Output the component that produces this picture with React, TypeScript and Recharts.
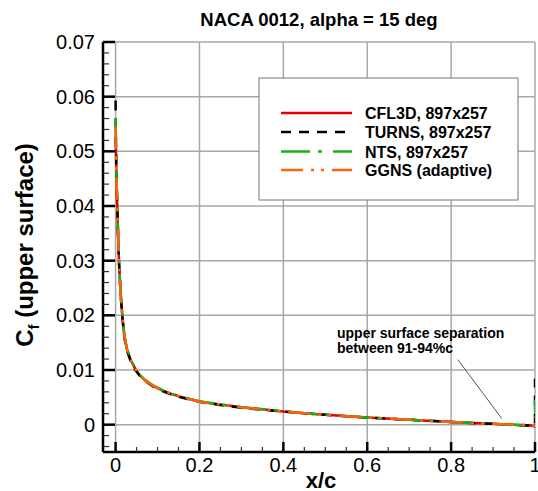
import React from 'react';
import { LineChart, Line, XAxis, YAxis, CartesianGrid, ReferenceLine } from 'recharts';

const FONT = "'Liberation Sans', Arial, Helvetica, sans-serif";

// axis ticks
const xMajorTicks = [0, 0.2, 0.4, 0.6, 0.8, 1];
const xTickLabels = ['0', '0.2', '0.4', '0.6', '0.8', '1'];
const xMinorTicks = [0, 0.05, 0.1, 0.15, 0.2, 0.25, 0.3, 0.35, 0.4, 0.45, 0.5, 0.55, 0.6, 0.65, 0.7, 0.75, 0.8, 0.85, 0.9, 0.95, 1];
const yMajorTicks = [0, 0.01, 0.02, 0.03, 0.04, 0.05, 0.06, 0.07];
const yTickLabels = ['0', '0.01', '0.02', '0.03', '0.04', '0.05', '0.06', '0.07'];
const yMinorTicks = [
  -0.004, -0.002, 0, 0.002, 0.004, 0.006, 0.008, 0.01, 0.012, 0.014, 0.016, 0.018, 0.02,
  0.022, 0.024, 0.026, 0.028, 0.03, 0.032, 0.034, 0.036, 0.038, 0.04, 0.042, 0.044, 0.046,
  0.048, 0.05, 0.052, 0.054, 0.056, 0.058, 0.06, 0.062, 0.064, 0.066, 0.068, 0.07,
];

// x/c stations (last station repeated for the trailing-edge spike)
const xStations = [
  0, 0.0005, 0.001, 0.002, 0.004, 0.006, 0.008, 0.012, 0.016, 0.021, 0.027, 0.037, 0.047, 0.057,
  0.07, 0.089, 0.11, 0.13, 0.16, 0.2, 0.25, 0.3, 0.35, 0.4, 0.45, 0.5, 0.6, 0.7, 0.8, 0.85, 0.9,
  0.93, 0.96, 0.99, 1.0, 1.0,
];

const cfCFL3D = [
  0.0525, 0.0515, 0.05, 0.0455, 0.04, 0.0345, 0.03, 0.024, 0.02, 0.0162, 0.0138, 0.0117, 0.0102, 0.0091,
  0.0081, 0.0071, 0.0063, 0.0057, 0.005, 0.0042, 0.0037, 0.0032, 0.0028, 0.0024, 0.0021, 0.0018, 0.0013, 0.0009, 0.0005, 0.0003, 0.00015,
  0.00005, -0.00005, -0.00015, -0.0003, -0.0006,
];
const cfTURNS = [
  0.0593, 0.054, 0.0505, 0.0455, 0.04, 0.0343, 0.0298, 0.0238, 0.0197, 0.0159, 0.0135, 0.0114, 0.01, 0.009,
  0.008, 0.007, 0.0062, 0.0056, 0.0049, 0.0042, 0.0036, 0.0031, 0.0027, 0.0024, 0.0021, 0.0018, 0.0013, 0.0009, 0.0005, 0.0003, 0.00015,
  0.0, -0.0001, -0.00015, -0.0002, 0.0084,
];
const cfNTS = [
  0.056, 0.0535, 0.0505, 0.0458, 0.0402, 0.0347, 0.0301, 0.0241, 0.0201, 0.0163, 0.0139, 0.0118, 0.0103, 0.0092,
  0.0082, 0.0072, 0.0064, 0.0057, 0.005, 0.0043, 0.0037, 0.0032, 0.0028, 0.0025, 0.0021, 0.0018, 0.0013, 0.0009, 0.0005, 0.0003, 0.00015,
  0.00005, -0.00005, -0.0001, -0.0002, 0.0045,
];
const cfGGNS = [
  0.0545, 0.053, 0.0502, 0.0456, 0.0401, 0.0346, 0.03, 0.024, 0.02, 0.0162, 0.0138, 0.0117, 0.0102, 0.0091,
  0.0081, 0.0071, 0.0063, 0.0057, 0.005, 0.0042, 0.0037, 0.0032, 0.0028, 0.0024, 0.0021, 0.0018, 0.0013, 0.0009, 0.0005, 0.0003, 0.00015,
  0.00005, -0.00005, -0.0001, -0.0002, 0.0015,
];

// annotation leader (data coordinates)
const leaderX = [0.816, 0.921];
const leaderY = [0.0119, 0.0011];

const toRows = (ys: number[]) => xStations.map((x, i) => ({ x, y: ys[i] }));

const series = [
  { name: 'CFL3D, 897x257', data: toRows(cfCFL3D), color: '#e60000', dash: undefined as string | undefined },
  { name: 'TURNS, 897x257', data: toRows(cfTURNS), color: '#000000', dash: '10 8' },
  { name: 'NTS, 897x257', data: toRows(cfNTS), color: '#14b414', dash: '29 8 4 11' },
  { name: 'GGNS (adaptive)', data: toRows(cfGGNS), color: '#ff6010', dash: '22 8 3 7 3 8' },
];

const near = (a: number, b: number) => Math.abs(a - b) < 1e-9;

const YTick = (props: any) => {
  const { x, y, payload } = props;
  const v = payload.value;
  const idx = yMajorTicks.findIndex((m) => near(m, v));
  const major = idx >= 0;
  return (
    <g>
      <line x1={x} x2={x + (major ? 12 : 6)} y1={y} y2={y} stroke={major ? '#000' : '#333'} strokeWidth={major ? 2.5 : 1.2} />
      {major && (
        <text x={x - 8} y={y + 7} textAnchor="end" fontSize={20} fontFamily={FONT} fill="#000">
          {yTickLabels[idx]}
        </text>
      )}
    </g>
  );
};

const XTick = (props: any) => {
  const { x, y, payload } = props;
  const v = payload.value;
  const idx = xMajorTicks.findIndex((m) => near(m, v));
  const major = idx >= 0;
  return (
    <g>
      <line x1={x} x2={x} y1={y} y2={y - (major ? 10 : 5)} stroke={major ? '#000' : '#333'} strokeWidth={major ? 2.5 : 1.2} />
      {major && (
        <text x={x} y={y + 20} textAnchor="middle" fontSize={20} fontFamily={FONT} fill="#000">
          {xTickLabels[idx]}
        </text>
      )}
    </g>
  );
};

const legendRows = [113, 132, 151.5, 170];

export default function App() {
  return (
    <div style={{ position: 'absolute', left: 0, top: 0, width: 538, height: 491, background: '#fff' }}>
      <LineChart width={538} height={491} margin={{ top: 42, right: 3, left: 0, bottom: 0 }}>
        <CartesianGrid
          stroke="#a8a8a8"
          strokeWidth={1.5}
          horizontalValues={yMajorTicks}
          verticalValues={xMajorTicks}
        />
        <XAxis
          type="number"
          dataKey="x"
          domain={[-0.03, 1]}
          allowDataOverflow
          ticks={xMinorTicks}
          interval={0}
          height={39}
          tickSize={0}
          tickMargin={0}
          tickLine={false}
          axisLine={{ stroke: '#000', strokeWidth: 2.5 }}
          tick={(p: any) => <XTick {...p} />}
        />
        <YAxis
          type="number"
          dataKey="y"
          domain={[-0.005, 0.07]}
          allowDataOverflow
          ticks={yMinorTicks}
          interval={0}
          width={103}
          tickSize={0}
          tickMargin={0}
          tickLine={false}
          axisLine={{ stroke: '#000', strokeWidth: 2.5 }}
          tick={(p: any) => <YTick {...p} />}
        />
        <ReferenceLine
          segment={[
            { x: leaderX[0], y: leaderY[0] },
            { x: leaderX[1], y: leaderY[1] },
          ]}
          stroke="#555"
          strokeWidth={1}
          ifOverflow="visible"
        />
        {series.map((s) => (
          <Line
            key={s.name}
            data={s.data}
            dataKey="y"
            name={s.name}
            type="linear"
            stroke={s.color}
            strokeWidth={2.5}
            strokeDasharray={s.dash}
            dot={false}
            activeDot={false}
            isAnimationActive={false}
          />
        ))}
      </LineChart>
      <svg width={538} height={491} style={{ position: 'absolute', left: 0, top: 0, pointerEvents: 'none' }}>
        <text x={319} y={26} textAnchor="middle" fontSize={18.5} fontWeight="bold" fontFamily={FONT} fill="#000">
          NACA 0012, alpha = 15 deg
        </text>
        <text
          x={33}
          y={245}
          textAnchor="middle"
          transform="rotate(-90, 33, 245)"
          fontSize={24}
          fontWeight="bold"
          fontFamily={FONT}
          fill="#000"
        >
          <tspan>C</tspan>
          <tspan fontSize={15} dy={6}>f</tspan>
          <tspan dy={-6}> (upper surface)</tspan>
        </text>
        <text x={321} y={488} textAnchor="middle" fontSize={22} fontWeight="bold" fontFamily={FONT} fill="#000">
          x/c
        </text>
        <text fontSize={14} fontWeight="bold" fontFamily={FONT} fill="#000">
          <tspan x={337} y={338}>upper surface separation</tspan>
          <tspan x={337} y={353}>between 91-94%c</tspan>
        </text>
        <rect x={259} y={78} width={259} height={122} fill="#fff" stroke="#8a8a8a" strokeWidth={1.2} />
        {series.map((s, i) => (
          <g key={s.name}>
            <line
              x1={281}
              x2={352}
              y1={legendRows[i]}
              y2={legendRows[i]}
              stroke={s.color}
              strokeWidth={2.5}
              strokeDasharray={s.dash}
            />
            <text x={365} y={legendRows[i] + 6} fontSize={16} fontWeight="bold" fontFamily={FONT} fill="#000">
              {s.name}
            </text>
          </g>
        ))}
      </svg>
    </div>
  );
}
